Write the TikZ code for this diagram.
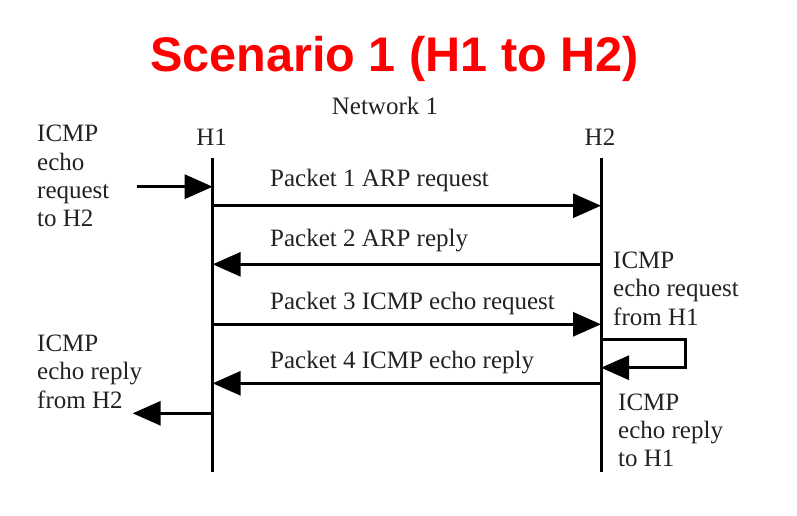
\documentclass[tikz,border=0pt]{standalone}
\usepackage{fontspec}
\setmainfont{Liberation Serif}
\newfontfamily\titlefont{Liberation Sans}
\usetikzlibrary{arrows.meta}
\definecolor{txt}{HTML}{222222}
\definecolor{titlered}{HTML}{FF0000}
\tikzset{
  lbl/.style={inner sep=0pt, text=txt, font=\fontsize{25}{28.3}\selectfont, align=left, anchor=base west},
  hostlbl/.style={inner sep=0pt, text=txt, font=\fontsize{25}{28.3}\selectfont, anchor=base},
  life/.style={line width=3pt},
  msg/.style={line width=3pt, -{Triangle[length=28pt,width=24pt]}},
}
\begin{document}
\begin{tikzpicture}[x=1pt,y=-1pt]
\useasboundingbox (0,0) rectangle (797,515);
% title
\node[inner sep=0pt, anchor=base, text=titlered, font=\titlefont\bfseries\fontsize{48.6}{58}\selectfont] (title) at (394.5,71.7) {Scenario 1 (H1 to H2)};
\node[hostlbl] (net) at (385,114) {Network 1};
\node[hostlbl] (h1) at (211.7,145) {H1};
\node[hostlbl] (h2) at (600,145) {H2};
% lifelines
\coordinate (h1top) at (212.7,158);
\coordinate (h1bot) at (212.7,472);
\coordinate (h2top) at (601,158);
\coordinate (h2bot) at (601,472);
\draw[life] (h1top) -- (h1bot);
\draw[life] (h2top) -- (h2bot);
% message points
\coordinate (a1) at (212.7,205.7); \coordinate (b1) at (601,205.7);
\coordinate (a2) at (212.7,264.3); \coordinate (b2) at (601,264.3);
\coordinate (a3) at (212.7,324.3); \coordinate (b3) at (601,324.3);
\coordinate (a4) at (212.7,383.3); \coordinate (b4) at (601,383.3);
\draw[msg] (a1) -- (b1);
\draw[msg] (b2) -- (a2);
\draw[msg] (a3) -- (b3);
\draw[msg] (b4) -- (a4);
% external arrows
\coordinate (inS) at (136.7,186.7); \coordinate (inE) at (212.7,186.7);
\draw[msg] (inS) -- (inE);
\coordinate (outS) at (212.7,413.3); \coordinate (outE) at (132.7,413.3);
\draw[msg] (outS) -- (outE);
% loop
\coordinate (lpS) at (601,339); \coordinate (lpE) at (601,367.7);
\draw[msg] (lpS) -- (685,339) -- (685,367.7) -- (lpE);
% packet labels
\node[lbl] (p1) at (270,186) {Packet 1 ARP request};
\node[lbl] (p2) at (270,246.7) {Packet 2 ARP reply};
\node[lbl] (p3) at (270,309) {Packet 3 ICMP echo request};
\node[lbl] (p4) at (270,368) {Packet 4 ICMP echo reply};
% side labels (base anchor = last line's baseline)
\node[lbl] (l1) at (37,226.7) {ICMP\\echo\\request\\to H2};
\node[lbl] (l2) at (37,408) {ICMP\\echo reply\\from H2};
\node[lbl] (r1) at (613,325) {ICMP\\echo request\\from H1};
\node[lbl] (r2) at (618,466.7) {ICMP\\echo reply\\to H1};
\end{tikzpicture}
\end{document}
